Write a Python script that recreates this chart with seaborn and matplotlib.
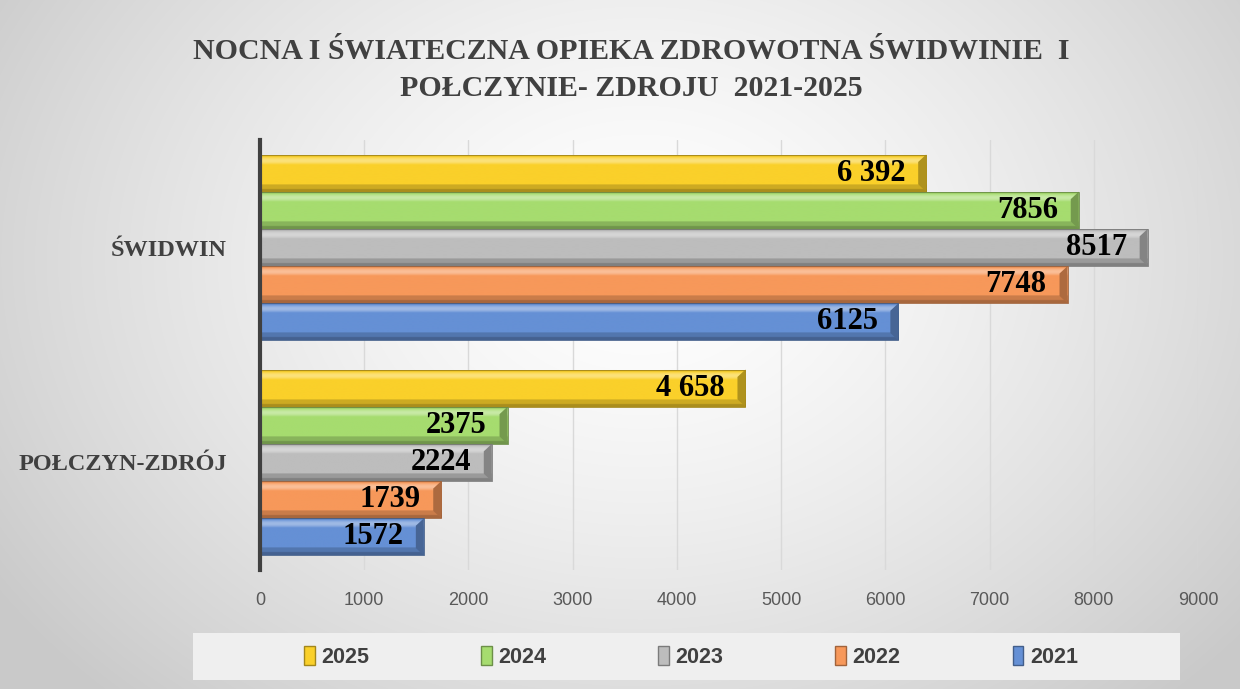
import numpy as np
import pandas as pd
import matplotlib
matplotlib.use("Agg")
import matplotlib.pyplot as plt
import matplotlib.colors as mcolors
from matplotlib.patches import Patch, Rectangle, Polygon
import seaborn as sns

# ---------------- data ----------------
categories = ["ŚWIDWIN", "POŁCZYN-ZDRÓJ"]
years = ["2025", "2024", "2023", "2022", "2021"]
values_2025 = [6392, 4658]
values_2024 = [7856, 2375]
values_2023 = [8517, 2224]
values_2022 = [7748, 1739]
values_2021 = [6125, 1572]
labels_2025 = ["6 392", "4 658"]
labels_2024 = ["7856", "2375"]
labels_2023 = ["8517", "2224"]
labels_2022 = ["7748", "1739"]
labels_2021 = ["6125", "1572"]
x_ticks = [0, 1000, 2000, 3000, 4000, 5000, 6000, 7000, 8000, 9000]
title = "NOCNA I ŚWIATECZNA OPIEKA ZDROWOTNA ŚWIDWINIE  I\nPOŁCZYNIE- ZDROJU  2021-2025"

year_values = dict(zip(years, [values_2025, values_2024, values_2023, values_2022, values_2021]))
year_labels = dict(zip(years, [labels_2025, labels_2024, labels_2023, labels_2022, labels_2021]))
colors = {"2025": "#FAD02A", "2024": "#A6DC6F", "2023": "#BDBDBD", "2022": "#F7985A", "2021": "#6590D5"}

df = pd.DataFrame(
    [(c, y, year_values[y][i]) for y in years for i, c in enumerate(categories)],
    columns=["miasto", "rok", "liczba"],
)

# ---------------- figure ----------------
sns.set_theme(style="white")
plt.rcParams["font.family"] = ["Liberation Sans", "DejaVu Sans"]

W, H = 1240, 689
fig = plt.figure(figsize=(W / 100, H / 100), dpi=100)

# background radial gradient
bg = fig.add_axes([0, 0, 1, 1], zorder=-5)
yy, xx = np.mgrid[0:H, 0:W]
r = np.sqrt(((xx - 640) / 720.0) ** 2 + ((yy - 260) / 560.0) ** 2)
g = np.clip(1.0 - 0.19 * r ** 1.4, 0.79, 1.0)
bg.imshow(np.dstack([g, g, g]), aspect="auto", extent=(0, 1, 0, 1))
bg.set_axis_off()

# legend box
fig.patches.append(Rectangle((193 / W, 1 - 680 / H), 987 / W, 47 / H,
                             transform=fig.transFigure, facecolor="#efefef",
                             edgecolor="none", zorder=-1))

ax = fig.add_axes([260 / W, 1 - 570 / H, 938 / W, 430 / H])
ax.set_facecolor("none")

sns.barplot(data=df, y="miasto", x="liczba", hue="rok", hue_order=years,
            order=categories, palette=colors, orient="h", width=0.865,
            saturation=1, legend=False, ax=ax, zorder=3, edgecolor="none")

ax.set_xlim(0, 9000)
ylim = ax.get_ylim()
ax.set_xticks(x_ticks)
ax.set_xticklabels([str(t) for t in x_ticks])

# bevel effect on bars
px_per_data = 938 / 9000.0
bev = 8 / px_per_data
prof = np.linspace(0, 1, 100)


def shade(c, f):
    c = np.array(mcolors.to_rgb(c))
    if f >= 0:
        return c + (1 - c) * f
    return c * (1 + f)


for y_key, cont in zip(years, ax.containers):
    base = colors[y_key]
    col = []
    for t in prof:
        if t < 0.06:
            f = -0.15
        elif t < 0.28:
            f = 0.38 * np.sin((t - 0.06) / 0.22 * np.pi)
        elif t < 0.80:
            f = 0.0
        elif t < 0.92:
            f = -0.18
        else:
            f = -0.32
        col.append(shade(base, f))
    grad = np.array(col).reshape(-1, 1, 3)
    for i, p in enumerate(cont.patches):
        x0, y0, w, h = p.get_x(), p.get_y(), p.get_width(), p.get_height()
        p.set_facecolor("none")
        im = ax.imshow(grad, extent=(x0, x0 + w, y0 + h, y0), aspect="auto",
                       origin="upper", zorder=3, interpolation="bilinear")
        im.set_clip_path(p)
        # right end bevel
        ax.add_patch(Polygon([(x0 + w - bev, y0 + h * 0.2), (x0 + w, y0),
                              (x0 + w, y0 + h), (x0 + w - bev, y0 + h * 0.8)],
                             closed=True, facecolor=shade(base, -0.3),
                             edgecolor="none", zorder=4))
        ax.add_patch(Rectangle((x0, y0), w, h, facecolor="none",
                               edgecolor=shade(base, -0.35), lw=0.6, zorder=4))
        ax.annotate(year_labels[y_key][i], xy=(x0 + w, y0 + h / 2),
                    xytext=(-15, 0), textcoords="offset points",
                    ha="right", va="center", fontsize=22, fontweight="bold",
                    family=["Liberation Serif", "DejaVu Serif"], color="black",
                    zorder=6)

ax.set_xlim(0, 9000)
ax.set_ylim(ylim)

# axes styling
ax.grid(axis="x", color="#d9d9d9", lw=1, zorder=0)
ax.set_axisbelow(True)
for s in ["top", "right", "bottom"]:
    ax.spines[s].set_visible(False)
ax.spines["left"].set_color("#404040")
ax.spines["left"].set_linewidth(3)
ax.spines["left"].set_zorder(7)
ax.tick_params(axis="both", length=0)
ax.tick_params(axis="x", pad=16, labelsize=13, labelcolor="#595959")
ax.tick_params(axis="y", pad=24)
for t in ax.get_yticklabels():
    t.set_fontfamily(["Liberation Serif", "DejaVu Serif"])
    t.set_fontweight("bold")
    t.set_fontsize(17.5)
    t.set_color("#404040")
ax.set_xlabel("")
ax.set_ylabel("")

fig.text(631 / W, 1 - 70 / H, title, ha="center", va="center",
         fontsize=21.5, fontweight="bold", color="#404040", linespacing=1.5,
         family=["Liberation Serif", "DejaVu Serif"])

handles = [Patch(facecolor=colors[y], edgecolor=shade(colors[y], -0.35)) for y in years]
fig.legend(handles, years, loc="center", bbox_to_anchor=(691 / W, 1 - 657 / H),
           ncol=5, frameon=False, handlelength=0.5,
           handleheight=1.0, handletextpad=0.3, columnspacing=5.2,
           prop={"weight": "bold", "size": 15.5})
for t in fig.legends[0].get_texts():
    t.set_color("#404040")

fig.savefig("out.png", dpi=100)
